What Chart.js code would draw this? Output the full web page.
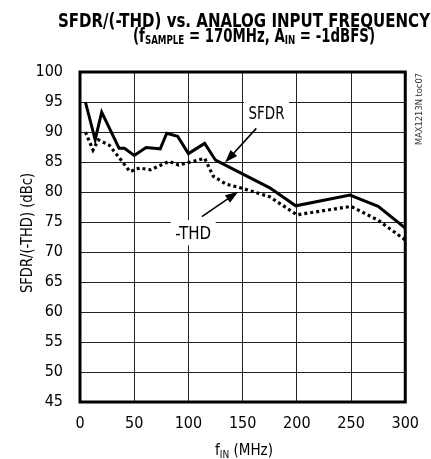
<!DOCTYPE html>
<html>
<head>
<meta charset="utf-8">
<script src="https://cdn.jsdelivr.net/npm/chart.js@4"></script>
<style>
html, body { margin: 0; padding: 0; background: #fff; }
</style>
</head>
<body>
<canvas id="c" width="431" height="459"></canvas>
<script>
// values
const freqSfdr = [5, 14, 20, 36, 41, 50, 61, 74, 80, 90, 100, 115, 125, 175, 199, 249, 275, 300];
const sfdr = [95, 88.7, 93.3, 87.3, 87.3, 86.1, 87.4, 87.2, 89.8, 89.3, 86.4, 88.1, 85.3, 80.7, 77.7, 79.5, 77.6, 74];
const freqThd = [5, 12, 17, 27, 38, 46, 55, 65, 82, 91, 115, 123, 135, 150, 175, 200, 250, 275, 300];
const thd = [90, 87, 88.7, 87.8, 85.3, 83.4, 84, 83.7, 85.1, 84.5, 85.6, 82.6, 81.3, 80.6, 79.2, 76.2, 77.6, 75.3, 72];
const xTicks = [0, 50, 100, 150, 200, 250, 300];
const yTicks = [45, 50, 55, 60, 65, 70, 75, 80, 85, 90, 95, 100];

const NARROW = '"Liberation Sans Narrow", "DejaVu Sans Condensed", Arial, sans-serif';

// callout labels, placed in data units
const callouts = [
    { text: 'SFDR', x: 172, y: 93.3, tail: [162.6, 90.6], tip: [133.8, 84.9] },
    { text: '-THD', x: 104.4, y: 73.3, tail: [112.4, 75.9], tip: [145.9, 80.05] }
];

// draw a row of text runs squeezed/stretched to a given width
function drawRuns(ctx, runs, x, baseline, width) {
    let natural = 0;
    runs.forEach(r => { ctx.font = r.font; natural += ctx.measureText(r.t).width; });
    ctx.save();
    ctx.translate(x, baseline);
    ctx.scale(width / natural, 1);
    let cx = 0;
    runs.forEach(r => {
        ctx.font = r.font;
        ctx.fillText(r.t, cx, r.dy || 0);
        cx += ctx.measureText(r.t).width;
    });
    ctx.restore();
}

function arrow(ctx, x1, y1, x2, y2) {
    const a = Math.atan2(y2 - y1, x2 - x1);
    const len = 13, half = 4.5;
    ctx.beginPath();
    ctx.moveTo(x1, y1);
    ctx.lineTo(x2 - Math.cos(a) * len * 0.8, y2 - Math.sin(a) * len * 0.8);
    ctx.lineWidth = 1.6;
    ctx.stroke();
    ctx.beginPath();
    ctx.moveTo(x2, y2);
    ctx.lineTo(x2 - Math.cos(a) * len - Math.sin(a) * half, y2 - Math.sin(a) * len + Math.cos(a) * half);
    ctx.lineTo(x2 - Math.cos(a) * len + Math.sin(a) * half, y2 - Math.sin(a) * len - Math.cos(a) * half);
    ctx.closePath();
    ctx.fill();
}

const extras = {
    id: 'extras',
    afterDatasetsDraw(chart) {
        const ctx = chart.ctx;
        const xs = chart.scales.x, ys = chart.scales.y;
        ctx.save();
        ctx.fillStyle = '#000';
        ctx.strokeStyle = '#000';
        ctx.textBaseline = 'alphabetic';

        callouts.forEach(c => {
            const cx = xs.getPixelForValue(c.x), cy = ys.getPixelForValue(c.y);
            ctx.fillStyle = '#fff';
            ctx.fillRect(cx - 22.5, cy - 12, 45, 25);
            ctx.fillStyle = '#000';
            drawRuns(ctx, [{ t: c.text, font: '18px ' + NARROW }], cx - 18, cy + 7, 36);
            arrow(ctx, xs.getPixelForValue(c.tail[0]), ys.getPixelForValue(c.tail[1]),
                xs.getPixelForValue(c.tip[0]), ys.getPixelForValue(c.tip[1]));
        });

        // plot frame
        const a = chart.chartArea;
        ctx.lineWidth = 3;
        ctx.strokeRect(a.left, a.top, a.right - a.left, a.bottom - a.top);

        // title
        const B = 'bold 20px ' + NARROW, Bs = 'bold 13px ' + NARROW;
        drawRuns(ctx, [{ t: 'SFDR/(-THD) vs. ANALOG INPUT FREQUENCY', font: B }], 58, 27, 372);
        drawRuns(ctx, [
            { t: '(f', font: B }, { t: 'SAMPLE', font: Bs, dy: 2 },
            { t: ' = 170MHz, A', font: B }, { t: 'IN', font: Bs, dy: 2 },
            { t: ' = -1dBFS)', font: B }
        ], 133, 42, 242);

        // x axis title
        drawRuns(ctx, [
            { t: 'f', font: '15px ' + NARROW }, { t: 'IN', font: '10px ' + NARROW, dy: 3 },
            { t: ' (MHz)', font: '15px ' + NARROW }
        ], 215, 455, 58);

        // y axis title
        ctx.save();
        ctx.translate(32, 233);
        ctx.rotate(-Math.PI / 2);
        drawRuns(ctx, [{ t: 'SFDR/(-THD) (dBc)', font: '15px ' + NARROW }], -60, 0, 120);
        ctx.restore();

        // figure code on the right
        ctx.save();
        ctx.translate(422, 109);
        ctx.rotate(-Math.PI / 2);
        ctx.fillStyle = '#333';
        drawRuns(ctx, [{ t: 'MAX1213N toc07', font: '9px ' + NARROW }], -36, 0, 72);
        ctx.restore();

        ctx.restore();
    }
};

new Chart(document.getElementById('c'), {
    type: 'line',
    data: {
        datasets: [
            {
                label: 'SFDR',
                data: freqSfdr.map((f, i) => ({ x: f, y: sfdr[i] })),
                borderColor: '#000', borderWidth: 3, pointRadius: 0, tension: 0, fill: false
            },
            {
                label: '-THD',
                data: freqThd.map((f, i) => ({ x: f, y: thd[i] })),
                borderColor: '#000', borderWidth: 3.2, borderDash: [3, 3], pointRadius: 0, tension: 0, fill: false
            }
        ]
    },
    options: {
        responsive: false,
        animation: false,
        layout: { padding: { top: 72, right: 22, left: 0, bottom: 0 } },
        plugins: { legend: { display: false }, title: { display: false }, tooltip: { enabled: false } },
        scales: {
            x: {
                type: 'linear', min: 0, max: 300,
                afterBuildTicks: s => { s.ticks = xTicks.map(v => ({ value: v })); },
                afterFit: s => { s.height = 57; },
                grid: { color: '#222', lineWidth: 1, drawTicks: false },
                border: { display: false },
                ticks: { font: { family: NARROW, size: 16 }, color: '#000', padding: 12, maxRotation: 0, autoSkip: false }
            },
            y: {
                min: 45, max: 100,
                afterBuildTicks: s => { s.ticks = yTicks.map(v => ({ value: v })); },
                afterFit: s => { s.width = 80; },
                grid: { color: '#222', lineWidth: 1, drawTicks: false },
                border: { display: false },
                ticks: { font: { family: NARROW, size: 16 }, color: '#000', padding: 17, autoSkip: false }
            }
        }
    },
    plugins: [extras]
});
</script>
</body>
</html>
